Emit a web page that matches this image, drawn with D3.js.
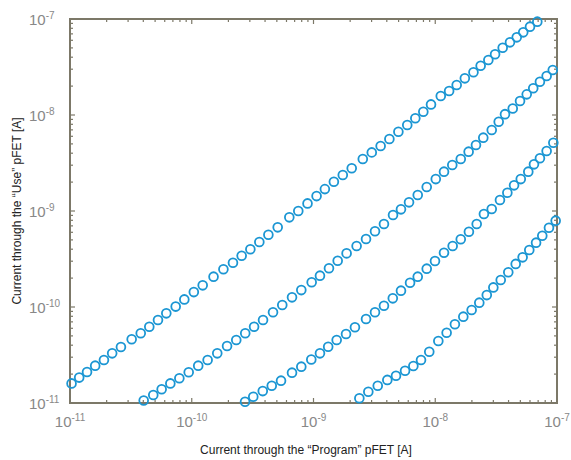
<!DOCTYPE html>
<html>
<head>
<meta charset="utf-8">
<script src="https://cdn.jsdelivr.net/npm/d3@7"></script>
<style>
  body { margin: 0; background: #fff; }
  svg { display: block; }
</style>
</head>
<body>
<div id="chart"></div>
<script>
var width = 571;
var height = 460;
var margin = { top: 19, right: 14, bottom: 57, left: 70 };

var axisColor = "#7c7868";
var tickTextColor = "#888888";
var markerColor = "#1b96d3";

var xTickLabels = ["-11", "-10", "-9", "-8", "-7"];
var yTickLabels = ["-11", "-10", "-9", "-8", "-7"];

/* Current through the "Program" pFET [A] */
var program1 = [1.03e-11, 1.19e-11, 1.38e-11, 1.61e-11, 1.90e-11, 2.22e-11, 2.62e-11, 3.21e-11, 3.81e-11, 4.48e-11,
  5.28e-11, 6.18e-11, 7.38e-11, 8.69e-11, 1.04e-10, 1.23e-10, 1.51e-10, 1.82e-10, 2.18e-10, 2.57e-10,
  3.03e-10, 3.59e-10, 4.26e-10, 5.08e-10, 6.33e-10, 7.50e-10, 8.93e-10, 1.06e-9, 1.24e-9, 1.47e-9,
  1.74e-9, 2.06e-9, 2.54e-9, 3.01e-9, 3.56e-9, 4.20e-9, 4.98e-9, 5.89e-9, 6.86e-9, 7.98e-9,
  9.23e-9, 1.11e-8, 1.30e-8, 1.50e-8, 1.75e-8, 2.06e-8, 2.36e-8, 2.73e-8, 3.10e-8, 3.58e-8,
  4.11e-8, 4.67e-8, 5.28e-8, 6.00e-8, 6.89e-8];
/* Current through the "Use" pFET [A] */
var use1 = [1.60e-11, 1.84e-11, 2.10e-11, 2.45e-11, 2.80e-11, 3.29e-11, 3.83e-11, 4.61e-11, 5.32e-11, 6.23e-11,
  7.32e-11, 8.59e-11, 1.01e-10, 1.20e-10, 1.43e-10, 1.68e-10, 2.07e-10, 2.47e-10, 2.89e-10, 3.42e-10,
  3.99e-10, 4.75e-10, 5.66e-10, 6.76e-10, 8.59e-10, 1.00e-9, 1.20e-9, 1.43e-9, 1.69e-9, 2.02e-9,
  2.37e-9, 2.79e-9, 3.48e-9, 4.08e-9, 4.75e-9, 5.62e-9, 6.70e-9, 7.87e-9, 9.25e-9, 1.08e-8,
  1.29e-8, 1.58e-8, 1.78e-8, 2.05e-8, 2.41e-8, 2.79e-8, 3.26e-8, 3.74e-8, 4.29e-8, 5.02e-8,
  5.71e-8, 6.44e-8, 7.26e-8, 8.32e-8, 9.38e-8];

var program2 = [4.03e-11, 4.83e-11, 5.66e-11, 6.67e-11, 7.91e-11, 9.44e-11, 1.13e-10, 1.35e-10, 1.62e-10, 1.95e-10,
  2.32e-10, 2.75e-10, 3.25e-10, 3.85e-10, 4.65e-10, 5.54e-10, 6.66e-10, 7.94e-10, 9.66e-10, 1.13e-9,
  1.34e-9, 1.58e-9, 1.87e-9, 2.26e-9, 2.70e-9, 3.20e-9, 3.79e-9, 4.50e-9, 5.23e-9, 6.09e-9,
  7.18e-9, 8.51e-9, 1.01e-8, 1.18e-8, 1.38e-8, 1.62e-8, 1.88e-8, 2.16e-8, 2.48e-8, 2.91e-8,
  3.32e-8, 3.74e-8, 4.33e-8, 4.97e-8, 5.64e-8, 6.38e-8, 7.24e-8, 8.22e-8, 9.23e-8];
var use2 = [1.06e-11, 1.21e-11, 1.39e-11, 1.60e-11, 1.81e-11, 2.09e-11, 2.45e-11, 2.80e-11, 3.29e-11, 3.93e-11,
  4.53e-11, 5.32e-11, 6.23e-11, 7.32e-11, 8.81e-11, 1.05e-10, 1.26e-10, 1.50e-10, 1.81e-10, 2.12e-10,
  2.53e-10, 3.03e-10, 3.62e-10, 4.32e-10, 5.11e-10, 6.15e-10, 7.32e-10, 9.08e-10, 1.04e-9, 1.23e-9,
  1.47e-9, 1.78e-9, 2.15e-9, 2.57e-9, 3.01e-9, 3.48e-9, 4.15e-9, 4.87e-9, 5.81e-9, 6.98e-9,
  8.51e-9, 1.02e-8, 1.17e-8, 1.40e-8, 1.64e-8, 1.90e-8, 2.22e-8, 2.55e-8, 2.94e-8];

var program3 = [2.74e-10, 3.20e-10, 3.83e-10, 4.54e-10, 5.41e-10, 6.66e-10, 7.94e-10, 9.59e-10, 1.13e-9, 1.32e-9,
  1.55e-9, 1.85e-9, 2.19e-9, 2.70e-9, 3.20e-9, 3.79e-9, 4.48e-9, 5.23e-9, 6.21e-9, 7.18e-9,
  8.51e-9, 9.95e-9, 1.18e-8, 1.39e-8, 1.62e-8, 1.89e-8, 2.19e-8, 2.51e-8, 2.91e-8, 3.40e-8,
  3.91e-8, 4.44e-8, 5.04e-8, 5.81e-8, 6.47e-8, 7.24e-8, 8.22e-8, 9.33e-8];
var use3 = [1.03e-11, 1.16e-11, 1.33e-11, 1.51e-11, 1.71e-11, 2.07e-11, 2.39e-11, 2.84e-11, 3.29e-11, 3.86e-11,
  4.53e-11, 5.23e-11, 6.15e-11, 7.50e-11, 8.81e-11, 1.03e-10, 1.23e-10, 1.48e-10, 1.79e-10, 2.07e-10,
  2.51e-10, 3.01e-10, 3.68e-10, 4.32e-10, 5.07e-10, 6.08e-10, 7.32e-10, 9.31e-10, 1.05e-9, 1.30e-9,
  1.55e-9, 1.85e-9, 2.15e-9, 2.57e-9, 3.06e-9, 3.54e-9, 4.22e-9, 5.14e-9];

var program4 = [2.38e-9, 2.82e-9, 3.37e-9, 4.04e-9, 4.76e-9, 5.65e-9, 6.61e-9, 7.64e-9, 8.93e-9, 1.06e-8,
  1.24e-8, 1.45e-8, 1.70e-8, 1.99e-8, 2.30e-8, 2.65e-8, 3.00e-8, 3.45e-8, 3.98e-8, 4.58e-8,
  5.22e-8, 5.92e-8, 6.73e-8, 7.57e-8, 8.59e-8, 9.75e-8];
var use4 = [1.12e-11, 1.31e-11, 1.51e-11, 1.74e-11, 1.92e-11, 2.17e-11, 2.43e-11, 2.80e-11, 3.42e-11, 4.43e-11,
  5.40e-11, 6.61e-11, 7.93e-11, 9.31e-11, 1.11e-10, 1.33e-10, 1.60e-10, 1.91e-10, 2.30e-10, 2.81e-10,
  3.29e-10, 3.93e-10, 4.68e-10, 5.53e-10, 6.70e-10, 7.93e-10];

var series = [
  { x: program1, y: use1 },
  { x: program2, y: use2 },
  { x: program3, y: use3 },
  { x: program4, y: use4 }
];

var innerW = width - margin.left - margin.right;
var innerH = height - margin.top - margin.bottom;

var xScale = d3.scaleLog().domain([1e-11, 1e-7]).range([0, innerW]);
var yScale = d3.scaleLog().domain([1e-11, 1e-7]).range([innerH, 0]);

var svg = d3.select("#chart")
  .append("svg")
  .attr("width", width)
  .attr("height", height)
  .style("font-family", "Liberation Sans, Arial, sans-serif");

var g = svg.append("g")
  .attr("transform", `translate(${margin.left}, ${margin.top})`);

/* minor + major ticks, drawn inward on all four sides */
var allTicks = xScale.ticks();
var majors = [1e-11, 1e-10, 1e-9, 1e-8, 1e-7];
function isMajor(v) {
  return majors.some(m => Math.abs(v / m - 1) < 1e-6);
}

var tickG = g.append("g").attr("stroke", axisColor).attr("stroke-width", 1.2);

allTicks.forEach(function(v) {
  var len = isMajor(v) ? 5 : 3;
  var x = xScale(v);
  var y = yScale(v);
  tickG.append("line").attr("x1", x).attr("x2", x).attr("y1", innerH).attr("y2", innerH - len);
  tickG.append("line").attr("x1", x).attr("x2", x).attr("y1", 0).attr("y2", len);
  tickG.append("line").attr("x1", 0).attr("x2", len).attr("y1", y).attr("y2", y);
  tickG.append("line").attr("x1", innerW).attr("x2", innerW - len).attr("y1", y).attr("y2", y);
});

/* box */
g.append("rect")
  .attr("x", 0)
  .attr("y", 0)
  .attr("width", innerW)
  .attr("height", innerH)
  .attr("fill", "none")
  .attr("stroke", axisColor)
  .attr("stroke-width", 2);

/* x tick labels */
var xLab = g.selectAll(".xlab")
  .data(majors)
  .enter()
  .append("text")
  .attr("class", "xlab")
  .attr("x", d => xScale(d))
  .attr("y", innerH + 24)
  .attr("text-anchor", "middle")
  .attr("fill", tickTextColor)
  .style("font-size", "15px");
xLab.append("tspan").text("10");
xLab.append("tspan")
  .attr("dy", "-0.6em")
  .style("font-size", "10px")
  .text((d, i) => xTickLabels[i]);

/* y tick labels */
var yLab = svg.selectAll(".ylab")
  .data(majors)
  .enter()
  .append("text")
  .attr("class", "ylab")
  .attr("x", 29)
  .attr("y", d => margin.top + yScale(d) + 6)
  .attr("text-anchor", "start")
  .attr("fill", tickTextColor)
  .style("font-size", "15px");
yLab.append("tspan").text("10");
yLab.append("tspan")
  .attr("dy", "-0.6em")
  .style("font-size", "10px")
  .text((d, i) => yTickLabels[i]);

/* markers */
series.forEach(function(s) {
  g.append("g")
    .selectAll("circle")
    .data(s.x.map((v, i) => ({ x: v, y: s.y[i] })))
    .enter()
    .append("circle")
    .attr("cx", d => xScale(d.x))
    .attr("cy", d => yScale(d.y))
    .attr("r", 4.4)
    .attr("fill", "none")
    .attr("stroke", markerColor)
    .attr("stroke-width", 1.8);
});

/* axis titles */
svg.append("text")
  .attr("x", 306)
  .attr("y", 454)
  .attr("text-anchor", "middle")
  .attr("fill", "#222")
  .style("font-size", "12px")
  .text("Current through the \u201cProgram\u201d pFET [A]");

svg.append("text")
  .attr("transform", "translate(21, 211) rotate(-90)")
  .attr("text-anchor", "middle")
  .attr("fill", "#222")
  .style("font-size", "12px")
  .text("Current through the \u201cUse\u201d pFET [A]");
</script>
</body>
</html>
